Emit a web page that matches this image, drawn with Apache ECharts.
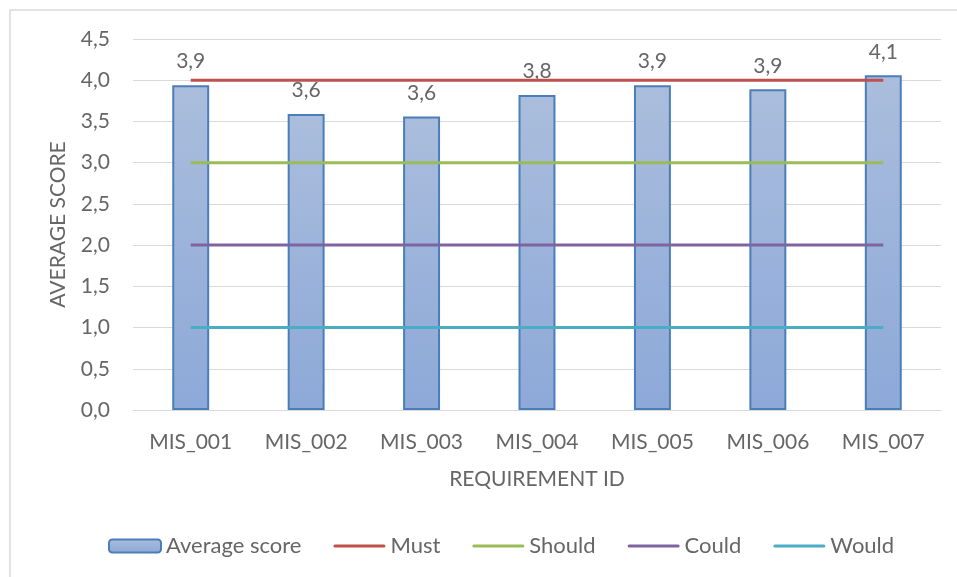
<!DOCTYPE html>
<html>
<head>
<meta charset="utf-8">
<script src="https://cdn.jsdelivr.net/npm/echarts@6/dist/echarts.min.js"></script>
<style>
  html, body { margin: 0; padding: 0; background: #fff; }
  #chart { width: 957px; height: 577px; }
</style>
</head>
<body>
<div id="chart"></div>
<script>
// Requirement IDs and their average scores
const requirementIds = ['MIS_001', 'MIS_002', 'MIS_003', 'MIS_004', 'MIS_005', 'MIS_006', 'MIS_007'];
const averageScores = [3.94, 3.59, 3.56, 3.82, 3.94, 3.89, 4.06];

// MoSCoW threshold levels
const mustLevel = [4, 4, 4, 4, 4, 4, 4];
const shouldLevel = [3, 3, 3, 3, 3, 3, 3];
const couldLevel = [2, 2, 2, 2, 2, 2, 2];
const wouldLevel = [1, 1, 1, 1, 1, 1, 1];

const FONT = 'Lato, "Liberation Sans", sans-serif';
const TEXT = '#666666';
const fmt = v => Number(v).toFixed(1).replace('.', ',');
// thin bar used as the legend marker of the threshold lines
const LINE_ICON = 'path://M1.5,0H50.5A1.5,1.5,0,0,1,50.5,3H1.5A1.5,1.5,0,0,1,1.5,0Z';

const chart = echarts.init(document.getElementById('chart'), null, { renderer: 'canvas' });

function levelSeries(name, data, color) {
  return {
    name, type: 'line', data,
    symbol: 'none',
    lineStyle: { color, width: 3 },
    itemStyle: { color },
    z: 3
  };
}

chart.setOption({
  animation: false,
  textStyle: { fontFamily: FONT },
  graphic: [{
    type: 'rect',
    shape: { x: 10, y: 10, width: 1200, height: 1000 },
    style: { fill: 'none', stroke: '#d9d9d9', lineWidth: 1.5 },
    silent: true
  }],
  grid: { left: 133, right: 16, top: 39, bottom: 167 },
  legend: {
    bottom: 15,
    left: 103,
    itemGap: 32,
    itemWidth: 52,
    itemHeight: 13,
    symbolKeepAspect: true,
    textStyle: { fontFamily: FONT, fontSize: 22, color: TEXT },
    data: [
      { name: 'Average score' },
      { name: 'Must', icon: LINE_ICON },
      { name: 'Should', icon: LINE_ICON },
      { name: 'Could', icon: LINE_ICON },
      { name: 'Would', icon: LINE_ICON }
    ]
  },
  xAxis: {
    type: 'category',
    data: requirementIds,
    name: 'REQUIREMENT ID',
    nameLocation: 'middle',
    nameGap: 59,
    nameTextStyle: { fontFamily: FONT, fontSize: 21, color: TEXT },
    axisLine: { lineStyle: { color: '#d9d9d9', width: 1 } },
    axisTick: { show: false },
    axisLabel: { fontFamily: FONT, fontSize: 21, color: TEXT, margin: 22 }
  },
  yAxis: {
    type: 'value',
    min: 0, max: 4.5, interval: 0.5,
    name: 'AVERAGE SCORE',
    nameLocation: 'middle',
    nameGap: 64,
    nameTextStyle: { fontFamily: FONT, fontSize: 21, color: TEXT },
    axisLine: { show: false },
    axisTick: { show: false },
    splitLine: { lineStyle: { color: '#d9d9d9', width: 1 } },
    axisLabel: { fontFamily: FONT, fontSize: 21, color: TEXT, margin: 23, formatter: fmt }
  },
  series: [
    {
      name: 'Average score',
      type: 'bar',
      data: averageScores,
      barWidth: '32%',
      itemStyle: {
        color: new echarts.graphic.LinearGradient(0, 0, 0, 1, [
          { offset: 0, color: '#aabddc' },
          { offset: 1, color: '#8da9d8' }
        ]),
        borderColor: '#4a7ebb',
        borderWidth: 2
      },
      label: {
        show: true,
        position: 'top',
        distance: 13,
        fontFamily: FONT,
        fontSize: 21,
        color: TEXT,
        formatter: p => fmt(p.value)
      },
      z: 2
    },
    levelSeries('Must', mustLevel, '#c0504d'),
    levelSeries('Should', shouldLevel, '#9bbb59'),
    levelSeries('Could', couldLevel, '#8064a2'),
    levelSeries('Would', wouldLevel, '#4bacc6')
  ]
});
</script>
</body>
</html>
